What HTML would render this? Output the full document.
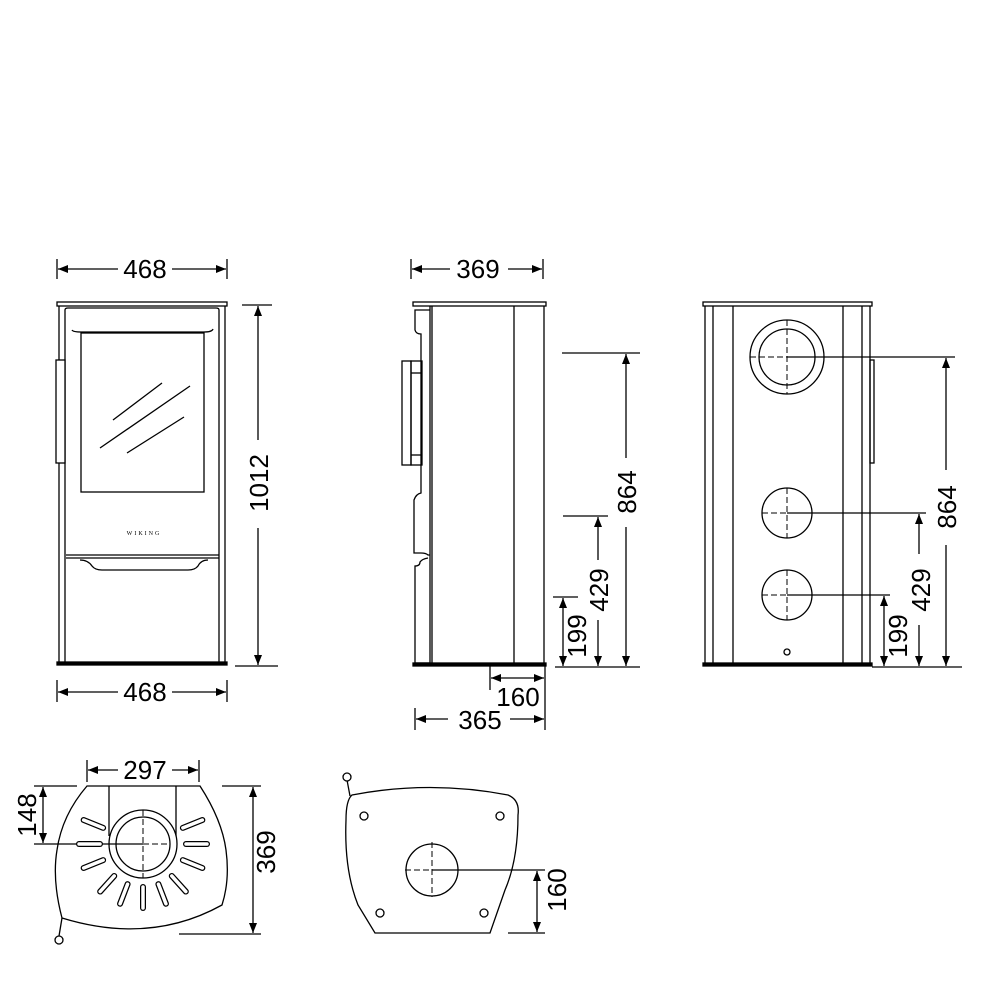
<!DOCTYPE html>
<html><head><meta charset="utf-8"><style>
html,body{margin:0;padding:0;background:#fff;}
svg{display:block;}
text{font-family:"Liberation Sans",Arial,sans-serif;font-size:26px;fill:#000;}
</style></head><body>
<svg width="1000" height="1000" viewBox="0 0 1000 1000" xmlns="http://www.w3.org/2000/svg">
<defs>
<marker id="a" viewBox="0 0 10 8" refX="10" refY="4" markerWidth="10" markerHeight="8" markerUnits="userSpaceOnUse" orient="auto-start-reverse">
<path d="M0,0 L10,4 L0,8 Z" fill="#000"/></marker>
</defs>
<g fill="none" stroke="#000" stroke-width="1.3">

<!-- FRONT VIEW -->
<rect x="57" y="302" width="170" height="4" fill="#fff"/>
<line x1="59" y1="306" x2="59" y2="663"/>
<line x1="225" y1="306" x2="225" y2="663"/>
<path d="M65,663 V310 Q65,308 68,308 H216 Q219,308 219,310 V663"/>
<path d="M72,330 Q73,332 81,332 H204 Q212,332 213,329"/>
<rect x="81" y="333" width="123" height="159"/>
<line x1="113" y1="420" x2="162" y2="383"/>
<line x1="100" y1="448" x2="190" y2="386"/>
<line x1="127" y1="453" x2="184" y2="417"/>
<rect x="56" y="360" width="9" height="103" fill="#fff"/>
<line x1="66" y1="555" x2="219" y2="555"/>
<line x1="66" y1="558" x2="219" y2="558"/>
<path d="M80,560 Q88,560 92,566 Q95,570 102,570 H188 Q195,570 198,566 Q201,560 208,560"/>
<rect x="57" y="662" width="170" height="3" fill="#000"/>
<!-- front dims -->
<line x1="57" y1="259" x2="57" y2="279"/>
<line x1="227" y1="259" x2="227" y2="279"/>
<line x1="58" y1="269" x2="118" y2="269" marker-start="url(#a)"/>
<line x1="172" y1="269" x2="226" y2="269" marker-end="url(#a)"/>
<line x1="242" y1="305" x2="272" y2="305"/>
<line x1="235" y1="666" x2="278" y2="666"/>
<line x1="258" y1="306" x2="258" y2="440" marker-start="url(#a)"/>
<line x1="258" y1="528" x2="258" y2="665" marker-end="url(#a)"/>
<line x1="57" y1="680" x2="57" y2="702"/>
<line x1="227" y1="680" x2="227" y2="702"/>
<line x1="58" y1="692" x2="118" y2="692" marker-start="url(#a)"/>
<line x1="172" y1="692" x2="226" y2="692" marker-end="url(#a)"/>

<!-- SIDE VIEW -->
<rect x="413" y="302" width="133" height="4" fill="#fff"/>
<line x1="430" y1="306" x2="430" y2="665"/>
<line x1="432" y1="306" x2="432" y2="665"/>
<line x1="544" y1="306" x2="544" y2="665"/>
<line x1="514" y1="306" x2="514" y2="665"/>
<path d="M430,310 H415 V330 Q416,334 421,334 V493 Q416,494 414,500 V553 L421,553 Q426,553 428,555 L430,555"/>
<path d="M428,558 Q422,559 420,562 Q420,566 415,566 V663 H430"/>
<rect x="402" y="361" width="9" height="104" fill="#fff"/>
<rect x="411" y="361" width="11" height="104"/>
<line x1="411" y1="373" x2="422" y2="373"/>
<line x1="411" y1="455" x2="422" y2="455"/>
<rect x="413" y="663" width="133" height="3" fill="#000"/>
<!-- side dims -->
<line x1="411" y1="259" x2="411" y2="279"/>
<line x1="543" y1="259" x2="543" y2="279"/>
<line x1="412" y1="269" x2="450" y2="269" marker-start="url(#a)"/>
<line x1="508" y1="269" x2="542" y2="269" marker-end="url(#a)"/>
<line x1="562" y1="353" x2="640" y2="353"/>
<line x1="563" y1="516" x2="608" y2="516"/>
<line x1="553" y1="597" x2="578" y2="597"/>
<line x1="555" y1="667" x2="640" y2="667"/>
<line x1="626" y1="354" x2="626" y2="458" marker-start="url(#a)"/>
<line x1="626" y1="527" x2="626" y2="666" marker-end="url(#a)"/>
<line x1="598" y1="517" x2="598" y2="560" marker-start="url(#a)"/>
<line x1="598" y1="620" x2="598" y2="666" marker-end="url(#a)"/>
<line x1="563" y1="598" x2="563" y2="666" marker-start="url(#a)" marker-end="url(#a)"/>
<line x1="490" y1="666" x2="490" y2="690"/>
<line x1="545" y1="666" x2="545" y2="730"/>
<line x1="491" y1="678" x2="544" y2="678" marker-start="url(#a)" marker-end="url(#a)"/>
<line x1="415" y1="708" x2="415" y2="730"/>
<line x1="416" y1="719" x2="448" y2="719" marker-start="url(#a)"/>
<line x1="510" y1="719" x2="544" y2="719" marker-end="url(#a)"/>

<!-- BACK VIEW -->
<rect x="703" y="302" width="169" height="4" fill="#fff"/>
<line x1="705" y1="306" x2="705" y2="664"/>
<line x1="713" y1="306" x2="713" y2="664"/>
<line x1="733" y1="306" x2="733" y2="664"/>
<line x1="843" y1="306" x2="843" y2="664"/>
<line x1="862" y1="306" x2="862" y2="664"/>
<line x1="870" y1="306" x2="870" y2="664"/>
<rect x="870" y="360" width="4" height="103"/>
<rect x="703" y="663" width="169" height="3" fill="#000"/>
<circle cx="787" cy="357" r="37"/>
<circle cx="787" cy="357" r="28"/>
<circle cx="787" cy="513" r="25"/>
<circle cx="787" cy="595" r="25"/>
<circle cx="787" cy="652" r="3"/>
<g stroke-dasharray="6,3" stroke-width="1">
<line x1="787" y1="320" x2="787" y2="394"/><line x1="750" y1="357" x2="787" y2="357"/>
<line x1="787" y1="488" x2="787" y2="538"/><line x1="762" y1="513" x2="787" y2="513"/>
<line x1="787" y1="570" x2="787" y2="620"/><line x1="762" y1="595" x2="787" y2="595"/>
</g>
<line x1="787" y1="357" x2="955" y2="357"/>
<line x1="787" y1="513" x2="926" y2="513"/>
<line x1="787" y1="595" x2="890" y2="595"/>
<line x1="872" y1="667" x2="962" y2="667"/>
<line x1="946" y1="358" x2="946" y2="470" marker-start="url(#a)"/>
<line x1="946" y1="545" x2="946" y2="666" marker-end="url(#a)"/>
<line x1="919" y1="514" x2="919" y2="554" marker-start="url(#a)"/>
<line x1="919" y1="625" x2="919" y2="666" marker-end="url(#a)"/>
<line x1="884" y1="596" x2="884" y2="666" marker-start="url(#a)" marker-end="url(#a)"/>

<!-- BOTTOM LEFT (top view) -->
<path d="M87,786 H200 Q222,820 226,850 Q230,880 222,905 Q150,945 62,918 Q52,880 57,850 Q62,815 87,786 Z"/>
<line x1="109" y1="786" x2="109" y2="836"/>
<line x1="176" y1="786" x2="176" y2="836"/>
<circle cx="143" cy="844" r="34" fill="#fff"/>
<circle cx="143" cy="844" r="27"/>
<g stroke-dasharray="6,3" stroke-width="1">
<line x1="143" y1="810" x2="143" y2="878"/>
<line x1="143" y1="844" x2="170" y2="844"/>
</g>
<line x1="34" y1="844" x2="143" y2="844"/>
<g stroke-linecap="round">
<g transform="rotate(0 143 844)"><line x1="186" y1="844" x2="207" y2="844" stroke-width="6"/><line x1="186" y1="844" x2="207" y2="844" stroke-width="3.5" stroke="#fff"/></g>
<g transform="rotate(-22 143 844)"><line x1="186" y1="844" x2="207" y2="844" stroke-width="6"/><line x1="186" y1="844" x2="207" y2="844" stroke-width="3.5" stroke="#fff"/></g>
<g transform="rotate(22 143 844)"><line x1="186" y1="844" x2="207" y2="844" stroke-width="6"/><line x1="186" y1="844" x2="207" y2="844" stroke-width="3.5" stroke="#fff"/></g>
<g transform="rotate(180 143 844)"><line x1="186" y1="844" x2="207" y2="844" stroke-width="6"/><line x1="186" y1="844" x2="207" y2="844" stroke-width="3.5" stroke="#fff"/></g>
<g transform="rotate(202 143 844)"><line x1="186" y1="844" x2="207" y2="844" stroke-width="6"/><line x1="186" y1="844" x2="207" y2="844" stroke-width="3.5" stroke="#fff"/></g>
<g transform="rotate(158 143 844)"><line x1="186" y1="844" x2="207" y2="844" stroke-width="6"/><line x1="186" y1="844" x2="207" y2="844" stroke-width="3.5" stroke="#fff"/></g>
<g transform="rotate(48 143 844)"><line x1="186" y1="844" x2="207" y2="844" stroke-width="6"/><line x1="186" y1="844" x2="207" y2="844" stroke-width="3.5" stroke="#fff"/></g>
<g transform="rotate(69 143 844)"><line x1="186" y1="844" x2="207" y2="844" stroke-width="6"/><line x1="186" y1="844" x2="207" y2="844" stroke-width="3.5" stroke="#fff"/></g>
<g transform="rotate(90 143 844)"><line x1="186" y1="844" x2="207" y2="844" stroke-width="6"/><line x1="186" y1="844" x2="207" y2="844" stroke-width="3.5" stroke="#fff"/></g>
<g transform="rotate(111 143 844)"><line x1="186" y1="844" x2="207" y2="844" stroke-width="6"/><line x1="186" y1="844" x2="207" y2="844" stroke-width="3.5" stroke="#fff"/></g>
<g transform="rotate(132 143 844)"><line x1="186" y1="844" x2="207" y2="844" stroke-width="6"/><line x1="186" y1="844" x2="207" y2="844" stroke-width="3.5" stroke="#fff"/></g>
</g>
<line x1="62" y1="918" x2="59" y2="936"/>
<circle cx="59" cy="940" r="4" fill="#fff"/>
<line x1="87" y1="760" x2="87" y2="782"/>
<line x1="199" y1="760" x2="199" y2="782"/>
<line x1="88" y1="770" x2="118" y2="770" marker-start="url(#a)"/>
<line x1="172" y1="770" x2="198" y2="770" marker-end="url(#a)"/>
<line x1="34" y1="786" x2="77" y2="786"/>
<line x1="43" y1="787" x2="43" y2="843" marker-start="url(#a)" marker-end="url(#a)"/>
<line x1="222" y1="786" x2="261" y2="786"/>
<line x1="179" y1="934" x2="261" y2="934"/>
<line x1="253" y1="787" x2="253" y2="933" marker-start="url(#a)" marker-end="url(#a)"/>

<!-- BOTTOM RIGHT -->
<path d="M352,795 Q430,780 508,795 Q520,800 518,815 Q518,860 505,890 L490,933 H375 L358,905 Q344,870 346,820 Q346,800 352,795 Z"/>
<circle cx="432" cy="870" r="26"/>
<g stroke-dasharray="6,3" stroke-width="1">
<line x1="432" y1="842" x2="432" y2="897"/>
<line x1="405" y1="870" x2="432" y2="870"/>
</g>
<circle cx="364" cy="816" r="4"/>
<circle cx="500" cy="816" r="4"/>
<circle cx="380" cy="913" r="4"/>
<circle cx="484" cy="913" r="4"/>
<line x1="350" y1="796" x2="347" y2="780"/>
<circle cx="347" cy="777" r="4" fill="#fff"/>
<line x1="432" y1="870" x2="545" y2="870"/>
<line x1="508" y1="933" x2="545" y2="933"/>
<line x1="537" y1="871" x2="537" y2="932" marker-start="url(#a)" marker-end="url(#a)"/>
</g>

<!-- TEXT -->
<text x="145" y="278" text-anchor="middle">468</text>
<text x="145" y="701" text-anchor="middle">468</text>
<text transform="translate(268,483) rotate(-90)" text-anchor="middle">1012</text>
<text x="144" y="535" text-anchor="middle" style="font-size:6px;letter-spacing:2px;font-family:'Liberation Serif',serif">WIKING</text>
<text x="478" y="278" text-anchor="middle">369</text>
<text x="518" y="706" text-anchor="middle">160</text>
<text x="480" y="729" text-anchor="middle">365</text>
<text transform="translate(636,492) rotate(-90)" text-anchor="middle">864</text>
<text transform="translate(608,590) rotate(-90)" text-anchor="middle">429</text>
<text transform="translate(586,636) rotate(-90)" text-anchor="middle">199</text>
<text transform="translate(956,507) rotate(-90)" text-anchor="middle">864</text>
<text transform="translate(930,590) rotate(-90)" text-anchor="middle">429</text>
<text transform="translate(907,636) rotate(-90)" text-anchor="middle">199</text>
<text x="145" y="779" text-anchor="middle">297</text>
<text transform="translate(36,815) rotate(-90)" text-anchor="middle">148</text>
<text transform="translate(275,852) rotate(-90)" text-anchor="middle">369</text>
<text transform="translate(566,890) rotate(-90)" text-anchor="middle">160</text>
</svg>
</body></html>
